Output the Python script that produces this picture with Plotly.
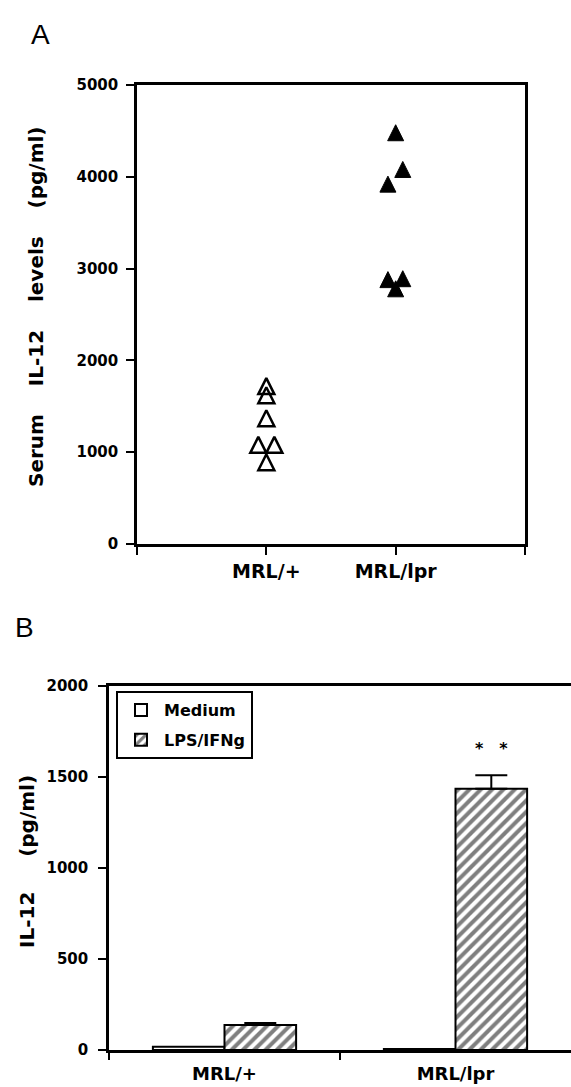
import plotly.graph_objects as go

# ---------------- data ----------------
# Panel A: serum IL-12 (pg/ml), individual mice
strains = ["MRL/+", "MRL/lpr"]
serum_mrl_plus = [1720, 1620, 1370, 1080, 1080, 890]
serum_mrl_lpr = [4480, 4080, 3920, 2880, 2890, 2780]
# horizontal scatter offsets (style only, to avoid overlap)
jitter_plus = [0, 0, 0, -0.062, 0.062, 0]
jitter_lpr = [0, 0.055, -0.06, -0.06, 0.055, 0]

# Panel B: IL-12 (pg/ml) from cultured cells
groups = ["MRL/+", "MRL/lpr"]
medium = [18, 6]
lps_ifng = [138, 1435]
lps_ifng_err = [10, 75]

yA_ticks = [0, 1000, 2000, 3000, 4000, 5000]
yB_ticks = [0, 500, 1000, 1500, 2000]

# ---------------- layout helpers ----------------
W, H = 571, 1087
def px_x(p):
    return p / W
def px_y(p):
    return 1 - p / H

FONT = "DejaVu Sans"
bold = lambda s: dict(family=FONT, size=s, color="black", weight="bold")

fig = go.Figure()

# Panel A markers (upward triangles centred on the value)
tri = dict(size=16, angle=180, standoff=8)
fig.add_trace(go.Scatter(
    x=[1 + j for j in jitter_plus], y=serum_mrl_plus, mode="markers",
    marker=dict(symbol="arrow-down-open", color="black",
                line=dict(width=2.5, color="black"), **tri),
    xaxis="x", yaxis="y", showlegend=False, name="MRL/+"))
fig.add_trace(go.Scatter(
    x=[2 + j for j in jitter_lpr], y=serum_mrl_lpr, mode="markers",
    marker=dict(symbol="arrow-down", color="black",
                line=dict(width=1, color="black"), **tri),
    xaxis="x", yaxis="y", showlegend=False, name="MRL/lpr"))

# Panel B bars
fig.add_trace(go.Bar(
    x=groups, y=medium, name="Medium",
    marker=dict(color="white", line=dict(color="black", width=2)),
    xaxis="x2", yaxis="y2", legendgroup="a"))
fig.add_trace(go.Bar(
    x=groups, y=lps_ifng, name="LPS/IFNg",
    marker=dict(color="white", line=dict(color="black", width=2),
                pattern=dict(shape="/", fgcolor="black", bgcolor="white",
                             size=8, solidity=0.5)),
    error_y=dict(type="data", array=lps_ifng_err, arrayminus=[0, 0],
                 symmetric=False, color="black", thickness=2, width=16),
    xaxis="x2", yaxis="y2", legendgroup="b"))

axis_common = dict(showline=True, linecolor="black", linewidth=2.5,
                   ticks="outside", tickcolor="black", tickwidth=2,
                   showgrid=False, zeroline=False, automargin=False)

fig.update_layout(
    width=W, height=H, margin=dict(l=0, r=0, t=0, b=0, autoexpand=False),
    paper_bgcolor="white", plot_bgcolor="white",
    barmode="group", bargap=0.38, bargroupgap=0,
    xaxis=dict(domain=[px_x(137), px_x(525)], range=[0, 3],
               tickvals=[0, 1, 2, 3], ticktext=["", strains[0], strains[1], ""],
               ticklen=8, mirror=True, tickfont=bold(19), anchor="y",
               **axis_common),
    yaxis=dict(domain=[px_y(544), px_y(85)], range=[0, 5000],
               tickvals=yA_ticks, ticktext=[str(v) for v in yA_ticks],
               ticklen=8, mirror=True, tickfont=bold(15), anchor="x",
               ticklabelstandoff=5, **axis_common),
    xaxis2=dict(domain=[px_x(109), 1.0], type="category", range=[-0.5, 1.5],
                tickson="boundaries", ticklen=7, mirror=True,
                tickfont=bold(18), anchor="y2", ticklabelstandoff=6,
                **axis_common),
    yaxis2=dict(domain=[px_y(1050), px_y(686)], range=[0, 2000],
                tickvals=yB_ticks, ticktext=[str(v) for v in yB_ticks],
                ticklen=8, tickfont=bold(15), anchor="x2",
                ticklabelstandoff=7, **axis_common),
    legend=dict(x=px_x(116), y=px_y(691), xanchor="left", yanchor="top",
                bordercolor="black", borderwidth=2, bgcolor="white",
                font=bold(16), traceorder="grouped", tracegroupgap=6,
                itemwidth=36),
    showlegend=True,
)

annotations = [
    dict(text="A", x=px_x(29), y=px_y(17), xref="paper", yref="paper",
         xanchor="left", yanchor="top", showarrow=False,
         font=dict(family="Liberation Sans", size=28, color="black")),
    dict(text="B", x=px_x(13), y=px_y(610), xref="paper", yref="paper",
         xanchor="left", yanchor="top", showarrow=False,
         font=dict(family="Liberation Sans", size=28, color="black")),
    dict(text="Serum    IL-12    levels    (pg/ml)", textangle=-90,
         x=px_x(36), y=px_y(307), xref="paper", yref="paper",
         xanchor="center", yanchor="middle", showarrow=False, font=bold(20)),
    dict(text="IL-12     (pg/ml)", textangle=-90,
         x=px_x(27), y=px_y(862), xref="paper", yref="paper",
         xanchor="center", yanchor="middle", showarrow=False, font=bold(20)),
    dict(text="*\u2003*", x=1.157, y=1654, xref="x2", yref="y2",
         xanchor="center", yanchor="middle", showarrow=False, font=bold(16)),
]
fig.update_layout(annotations=annotations)

fig.write_html("out.html")
